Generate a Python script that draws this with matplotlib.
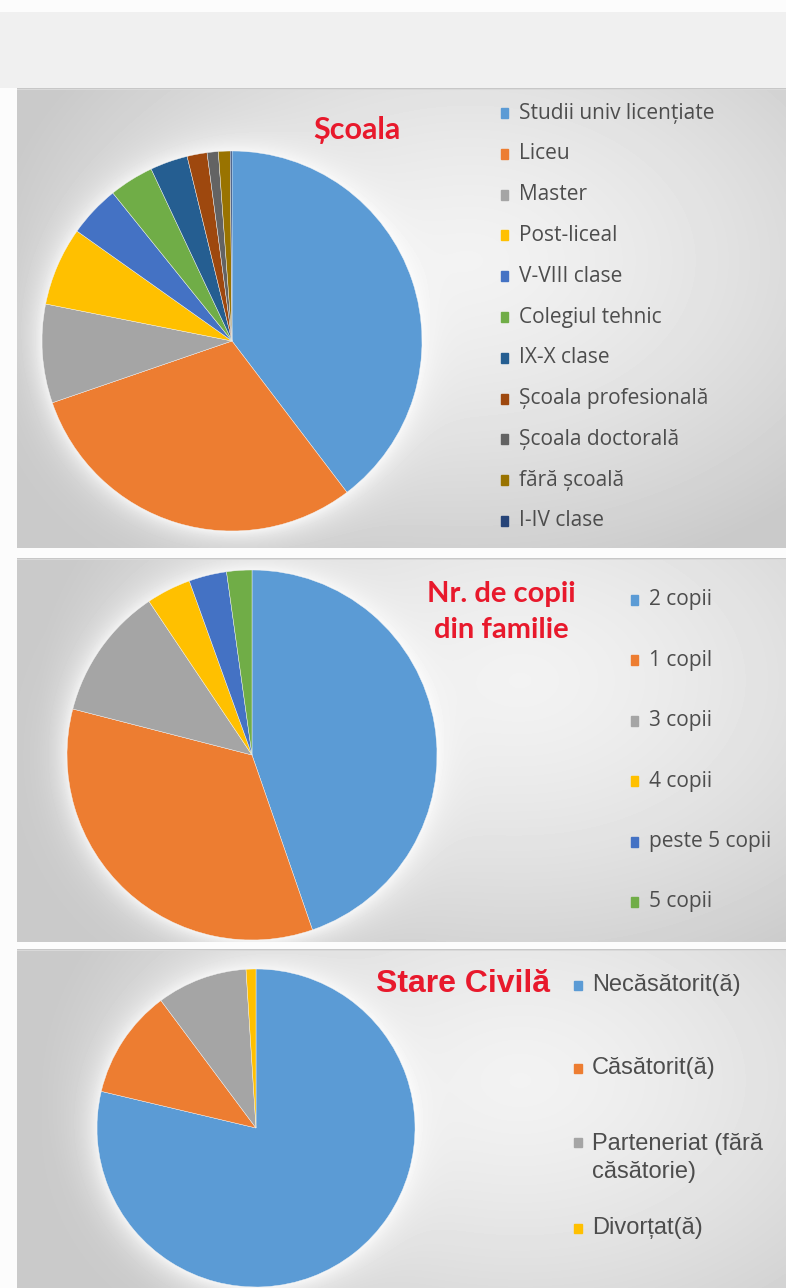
import numpy as np
import matplotlib
matplotlib.use("Agg")
import matplotlib.pyplot as plt
from matplotlib.patches import Rectangle

# --- data ---
school_labels = ["Studii univ licențiate", "Liceu", "Master", "Post-liceal",
                 "V-VIII clase", "Colegiul tehnic", "IX-X clase",
                 "Școala profesională", "Școala doctorală", "fără școală",
                 "I-IV clase"]
school_values = [39.7, 30.1, 8.4, 6.7, 4.4, 3.8, 3.2, 1.7, 0.95, 1.0, 0.15]

kids_labels = ["2 copii", "1 copil", "3 copii", "4 copii", "peste 5 copii", "5 copii"]
kids_values = [44.7, 34.3, 11.6, 3.9, 3.3, 2.2]

civil_labels = ["Necăsătorit(ă)", "Căsătorit(ă)", "Parteneriat (fără\ncăsătorie)", "Divorțat(ă)"]
civil_values = [78.7, 11.1, 9.2, 1.0]

office_colors = ['#5B9BD5', '#ED7D31', '#A5A5A5', '#FFC000', '#4472C4', '#70AD47',
                 '#255E91', '#9E480E', '#636363', '#997300', '#264478']

W, H = 786, 1288
RED = '#E8192C'
TXT = '#4d4d4d'

# panels: (top, bottom, pie cx, cy, r, light spot x, y)
panels = [
    (88, 548, 232, 341, 190, 470, 260),
    (558, 942, 252, 755, 185, 520, 680),
    (949, 1288, 256, 1128, 159, 520, 1080),
]


def background():
    yy, xx = np.mgrid[0:H, 0:W].astype(float)
    bg = np.full((H, W), 0.985)
    bg[12:88, :] = 0.94
    for top, bot, cx, cy, r, lx, ly in panels:
        m = (yy >= top) & (yy < bot) & (xx >= 17)
        d = np.sqrt(((xx - lx) / 480.0) ** 2 + ((yy - ly) / 330.0) ** 2)
        v = 0.95 - 0.16 * np.clip(d, 0, 1) ** 1.4
        dp = np.sqrt((xx - cx) ** 2 + (yy - cy) ** 2) - r
        glow = np.exp(-np.clip(dp, 0, None) / 14.0)
        v = v + (0.99 - v) * 0.8 * glow
        bg[m] = v[m]
        bg[top, 17:] = 0.78
        bg[top + 1, 17:] = 0.85
    return bg


def px_axes(fig, x, y, w, h):
    return fig.add_axes([x / W, 1 - (y + h) / H, w / W, h / H])


def draw_pie(fig, values, colors, cx, cy, r):
    ax = px_axes(fig, cx - r, cy - r, 2 * r, 2 * r)
    ax.pie(values, colors=colors, startangle=90, counterclock=False,
           radius=1, wedgeprops=dict(linewidth=0.3, edgecolor='#f4f4f4'))
    ax.set_xlim(-1, 1)
    ax.set_ylim(-1, 1)
    ax.axis('off')
    return ax


def draw_legend(fig, labels, colors, mx, tx, ys, size, family, ls=1.35, mw=7, mh=10):
    for lab, col, y in zip(labels, colors, ys):
        first_line_dy = 0
        if "\n" in lab:
            first_line_dy = -size * ls * 100 / 72 / 2
        yc = y + first_line_dy
        fig.patches.append(Rectangle((mx / W, 1 - (yc + mh / 2) / H), mw / W, mh / H,
                                     transform=fig.transFigure, color=col, zorder=5))
        fig.text(tx / W, 1 - y / H, lab, fontsize=size, family=family, color=TXT,
                 va='center', ha='left', linespacing=ls)


fig = plt.figure(figsize=(W / 100, H / 100), dpi=100)
bgax = fig.add_axes([0, 0, 1, 1])
bgax.imshow(background(), cmap='gray', vmin=0, vmax=1, extent=(0, W, H, 0), aspect='auto')
bgax.axis('off')

# Școala
p = panels[0]
draw_pie(fig, school_values, office_colors, p[2], p[3], p[4])
fig.text(357 / W, 1 - 130 / H, "Școala", fontsize=22, fontweight='bold', family='Lato',
         color=RED, ha='center', va='center')
draw_legend(fig, school_labels, office_colors, 501, 519,
            [113 + 40.8 * i for i in range(len(school_labels))], 15, 'Open Sans')

# Nr. de copii
p = panels[1]
draw_pie(fig, kids_values, office_colors[:6], p[2], p[3], p[4])
fig.text(501 / W, 1 - 612 / H, "Nr. de copii\ndin familie", fontsize=21, fontweight='bold',
         family='Lato', color=RED, ha='center', va='center', linespacing=1.45)
draw_legend(fig, kids_labels, office_colors[:6], 631, 649,
            [600 + 60.4 * i for i in range(len(kids_labels))], 15, 'Open Sans')

# Stare civilă
p = panels[2]
draw_pie(fig, civil_values, office_colors[:4], p[2], p[3], p[4])
fig.text(463 / W, 1 - 984 / H, "Stare Civilă", fontsize=23, fontweight='bold',
         family='Liberation Sans', color=RED, ha='center', va='center')
draw_legend(fig, civil_labels, office_colors[:4], 574, 592,
            [985, 1068, 1158, 1228], 17, 'Liberation Sans', ls=1.3, mw=8, mh=9)

fig.savefig("out.png", dpi=100)
